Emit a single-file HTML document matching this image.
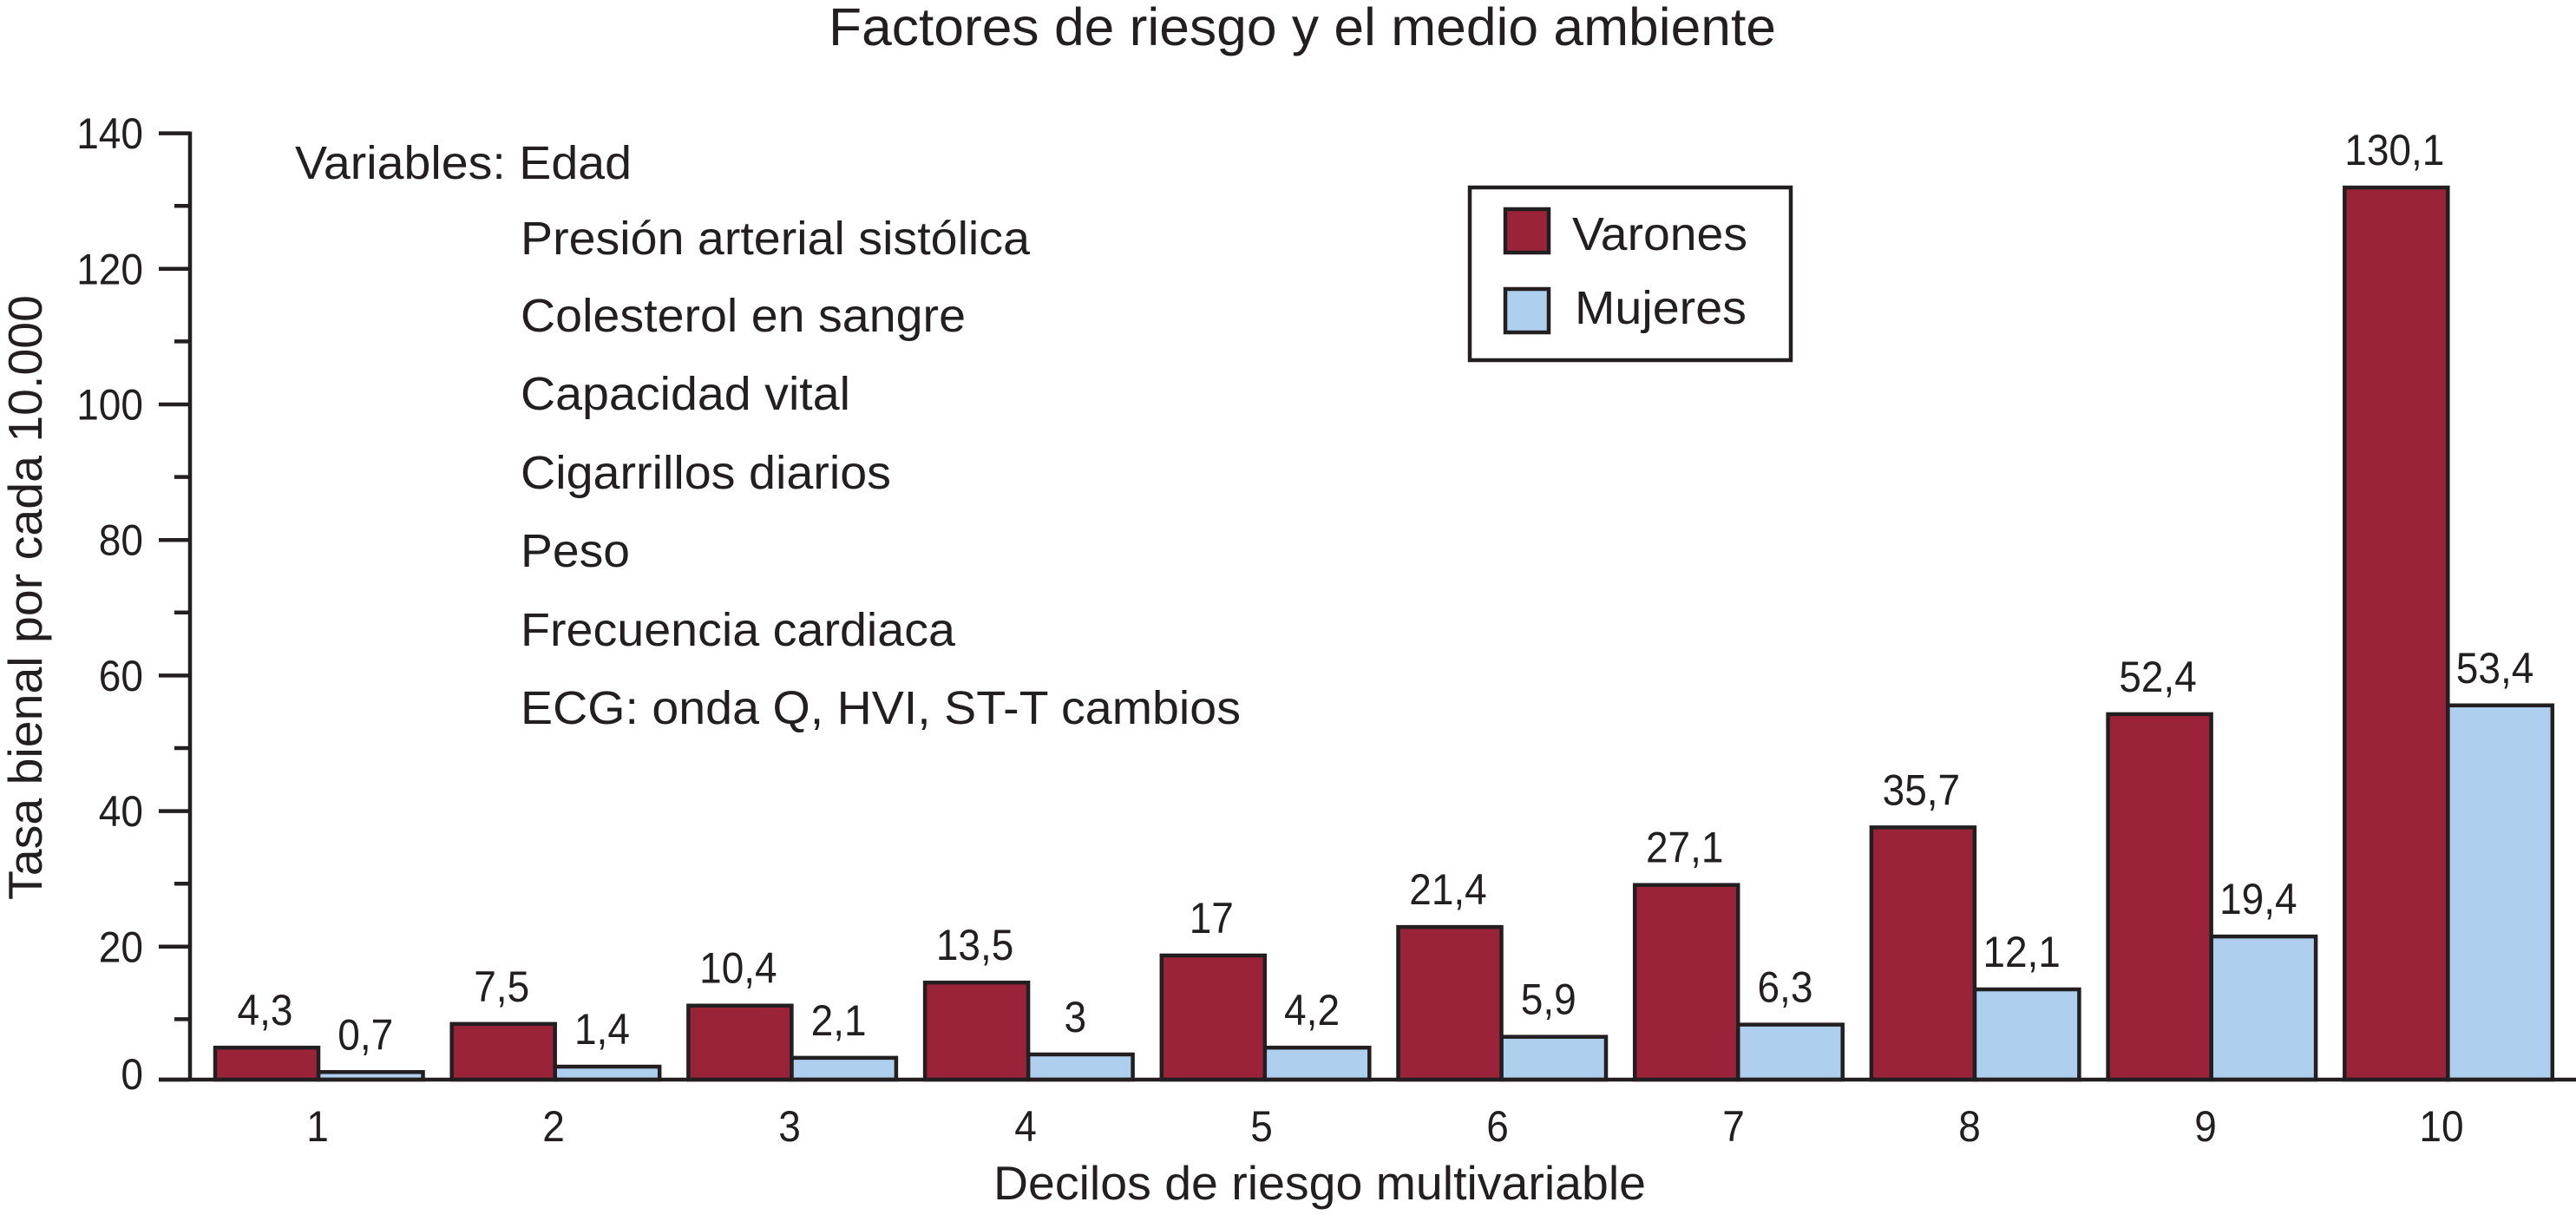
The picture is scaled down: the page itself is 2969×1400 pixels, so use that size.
<!DOCTYPE html>
<html lang="es">
<head>
<meta charset="utf-8">
<title>Factores de riesgo y el medio ambiente</title>
<style>
html,body{margin:0;padding:0;background:#fff;}
svg{display:block;}
text{font-family:"Liberation Sans",Arial,sans-serif;fill:#231f20;}
</style>
</head>
<body>
<svg id="chart" xmlns="http://www.w3.org/2000/svg" width="2969" height="1400" viewBox="0 0 2969 1400">
  <rect x="0" y="0" width="2969" height="1400" fill="#ffffff"/>
  <text x="955" y="52" font-size="61" textLength="1092" lengthAdjust="spacingAndGlyphs">Factores de riesgo y el medio ambiente</text>
  <text transform="translate(48,1037) rotate(-90)" x="0" y="0" font-size="55" textLength="697" lengthAdjust="spacingAndGlyphs">Tasa bienal por cada 10.000</text>
  <text x="1145" y="1382" font-size="55" textLength="752" lengthAdjust="spacingAndGlyphs">Decilos de riesgo multivariable</text>

  <g font-size="54">
    <text x="340" y="206" textLength="388" lengthAdjust="spacingAndGlyphs">Variables: Edad</text>
    <text x="600" y="293" textLength="587" lengthAdjust="spacingAndGlyphs">Presión arterial sistólica</text>
    <text x="600" y="382" textLength="513" lengthAdjust="spacingAndGlyphs">Colesterol en sangre</text>
    <text x="600" y="472" textLength="380" lengthAdjust="spacingAndGlyphs">Capacidad vital</text>
    <text x="600" y="563" textLength="427" lengthAdjust="spacingAndGlyphs">Cigarrillos diarios</text>
    <text x="600" y="653" textLength="126" lengthAdjust="spacingAndGlyphs">Peso</text>
    <text x="600" y="744" textLength="501" lengthAdjust="spacingAndGlyphs">Frecuencia cardiaca</text>
    <text x="600" y="834" textLength="830" lengthAdjust="spacingAndGlyphs">ECG: onda Q, HVI, ST-T cambios</text>
  </g>

  <g id="bars"></g>
  <g id="axes"></g>
  <g id="value-labels"></g>

  <g>
    <rect x="1694" y="216" width="370" height="199" fill="#ffffff" stroke="#231f20" stroke-width="4.5"/>
    <rect x="1735" y="241" width="50" height="50" fill="#9b2339" stroke="#231f20" stroke-width="4.5"/>
    <text x="1812" y="288" font-size="54" textLength="202" lengthAdjust="spacingAndGlyphs">Varones</text>
    <rect x="1735" y="333" width="50" height="50" fill="#aecfed" stroke="#231f20" stroke-width="4.5"/>
    <text x="1815" y="373" font-size="54" textLength="198" lengthAdjust="spacingAndGlyphs">Mujeres</text>
  </g>
</svg>

<script>
// Category labels (risk deciles)
const categories = ["1","2","3","4","5","6","7","8","9","10"];
// Bar heights
const varonesValues = [5.1,8.6,11.3,14.7,18.7,22.9,29.1,37.6,54.3,132.0];
const mujeresValues = [1.5,2.3,3.6,4.1,5.1,6.7,8.5,13.7,21.5,55.6];
// Values printed above the bars
const varonesLabels = ["4,3","7,5","10,4","13,5","17","21,4","27,1","35,7","52,4","130,1"];
const mujeresLabels = ["0,7","1,4","2,1","3","4,2","5,9","6,3","12,1","19,4","53,4"];
// Y axis ticks
const majorTicks = [0,20,40,60,80,100,120,140];
const minorTicks = [10,30,50,70,90,110,130];

const NS = "http://www.w3.org/2000/svg";
const INK = "#231f20";
const baselineY = 1244;
const axisX = 219;
const textSqueeze = 0.92;

function yScale(v){ return 1247 - 7.81 * v; }
function tickY(v){ return Math.min(yScale(v), baselineY); }
function groupX(i){ return 248 + 272.7 * i; }
function categoryLabelX(i){ return 366 + 272 * i; }

const varonesWidth = 119;
const mujeresWidth = 120.5;

function make(tag, attrs, parent){
  const el = document.createElementNS(NS, tag);
  for (const k in attrs) el.setAttribute(k, attrs[k]);
  parent.appendChild(el);
  return el;
}
function squeeze(t){
  t.setAttribute("textLength", (t.getComputedTextLength() * textSqueeze).toFixed(1));
  t.setAttribute("lengthAdjust", "spacingAndGlyphs");
}

const barsG = document.getElementById("bars");
const axesG = document.getElementById("axes");
const labelsG = document.getElementById("value-labels");

function drawBar(x, w, v, fill, name){
  const top = yScale(v);
  const r = make("rect", {x:x, y:top, width:w, height:Math.max(0, baselineY - top), fill:fill, stroke:INK, "stroke-width":4.5}, barsG);
  
  
}
function drawValueLabel(cx, v, text, name){
  const t = make("text", {x:cx, y:yScale(v) - 26, "font-size":50, "text-anchor":"middle"}, labelsG);
  t.textContent = text;
  
  
  squeeze(t);
}

categories.forEach(function(c, i){
  const x = groupX(i);
  drawBar(x + varonesWidth, mujeresWidth, mujeresValues[i], "#aecfed", "bar-mujeres-" + c);
  drawBar(x, varonesWidth, varonesValues[i], "#9b2339", "bar-varones-" + c);
  drawValueLabel(x + varonesWidth / 2 - 2, varonesValues[i], varonesLabels[i], "value-varones-" + c);
  drawValueLabel(x + varonesWidth + mujeresWidth / 2 - 6, mujeresValues[i], mujeresLabels[i], "value-mujeres-" + c);

  const cat = make("text", {x:categoryLabelX(i), y:1315, "font-size":50, "text-anchor":"middle"}, axesG);
  cat.textContent = c;
  
  
  squeeze(cat);
});

const yAxisLine = make("line", {x1:axisX, x2:axisX, y1:tickY(140) - 2, y2:baselineY + 2, stroke:INK, "stroke-width":4.5}, axesG);



const xAxisLine = make("line", {x1:183, x2:2969, y1:baselineY, y2:baselineY, stroke:INK, "stroke-width":4.5}, axesG);



majorTicks.forEach(function(v){
  const y = tickY(v);
  const tick = make("line", {x1:183, x2:axisX, y1:y, y2:y, stroke:INK, "stroke-width":4.5}, axesG);
  
  
  const t = make("text", {x:165, y:Math.min(y + 17.5, 1255), "font-size":50, "text-anchor":"end"}, axesG);
  t.textContent = String(v);
  
  
  squeeze(t);
});

minorTicks.forEach(function(v){
  const y = yScale(v) + 5.5;
  const tick = make("line", {x1:201, x2:axisX, y1:y, y2:y, stroke:INK, "stroke-width":4.5}, axesG);
  
  
});
</script>
</body>
</html>
